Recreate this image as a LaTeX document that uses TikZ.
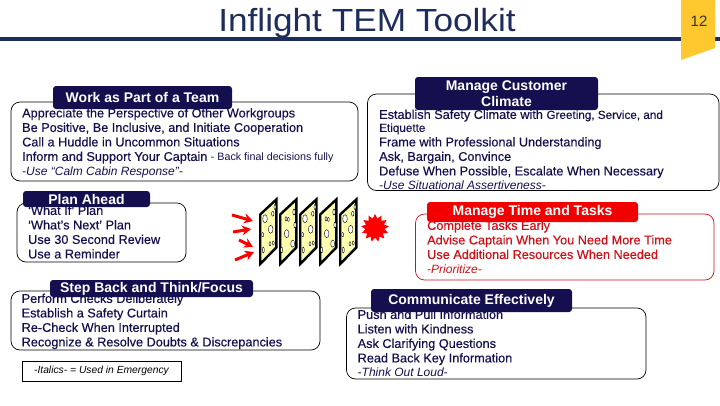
\documentclass[tikz,border=0pt]{standalone}
\usepackage{fontspec}
\setmainfont{Liberation Sans}
\newfontfamily\toolfont[FakeBold=0.35,Ligatures=TeX]{Liberation Sans}
\usetikzlibrary{shapes.geometric,arrows.meta}
\definecolor{toolnavy}{HTML}{14104F}
\definecolor{rulenavy}{HTML}{1F2D5C}
\definecolor{tabgold}{HTML}{FFC82E}
\definecolor{toolred}{HTML}{D01018}
\definecolor{cheese}{HTML}{FFFFB0}
\tikzset{
    toolbox/.style={draw=black, line width=0.7pt, rounded corners=9pt},
    toolhead/.style={fill=toolnavy, rounded corners=3pt, text=white, inner sep=0pt, align=center, font=\fontsize{14}{16}\selectfont\bfseries},
    tooltext/.style={anchor=north west, inner sep=0pt, align=left, text=toolnavy, font=\fontsize{12.7}{14.5}\selectfont\toolfont},
}
\newcommand{\holesA}{6/21.7/2.3/4, 11.7/32.3/2.3/4, 3.7/37.7/1/2.2, 13.7/16.7/1.2/2.5, 11/46.7/1/2, 14.3/46/1/2, 4.3/53/1/3, 16/10/1/2.5}
\newcommand{\holesB}{7/21.7/1/2, 9.3/22.3/1/2, 15/15/1.2/3, 7.7/36.7/2.3/4, 16/28/1.2/3, 13.7/46.7/2/3.5, 2.7/53/1/3}
\newcommand{\emline}[1]{{\normalfont\fontsize{12}{14.5}\selectfont\itshape #1}}
\begin{document}
\begin{tikzpicture}[x=1pt,y=-1pt]
    \useasboundingbox (0,0) rectangle (720,405);

    % Title and rule
    \fill[rulenavy] (0,37.3) rectangle (720,40.7);
    \node[text=rulenavy, inner sep=0pt, transform shape, xscale=1.1, font=\fontsize{32}{36}\selectfont] (title) at (367,23) {Inflight TEM Toolkit};

    % Page tab
    \fill[tabgold] (681,0) -- (715,0) -- (715,48) -- (681,60) -- cycle;
    \node[text=black!80, inner sep=0pt, font=\fontsize{15}{18}\selectfont] (pageno) at (699,21) {12};

    % Work as Part of a Team
    \draw[toolbox] (11,102) rectangle (358,181);
    \node[tooltext] (teamtext) at (22,108) {Appreciate the Perspective of Other Workgroups\\
        Be Positive, Be Inclusive, and Initiate Cooperation\\
        Call a Huddle in Uncommon Situations\\
        Inform and Support Your Captain {\normalfont\fontsize{10.7}{14.5}\selectfont - Back final decisions fully}\\
        \emline{-Use ``Calm Cabin Response''-}};
    \node[toolhead, minimum width=179pt, minimum height=23pt] (teamhead) at (142.5,97.5) {Work as Part of a Team};

    % Manage Customer Climate
    \draw[toolbox] (367.5,94) rectangle (719,190.5);
    \node[tooltext] (climatetext) at (379,109.5) {Establish Safety Climate with {\fontsize{11.7}{13}\selectfont Greeting, Service, and}\\[-1.5pt]
        {\fontsize{11.7}{13}\selectfont Etiquette}\\
        Frame with Professional Understanding\\
        Ask, Bargain, Convince\\
        Defuse When Possible, Escalate When Necessary\\
        \emline{-Use Situational Assertiveness-}};
    \node[toolhead, minimum width=183pt, minimum height=33pt] (climatehead) at (506.5,93.5) {Manage Customer\\Climate};

    % Plan Ahead
    \draw[toolbox] (17,203) rectangle (186,262);
    \node[tooltext] (plantext) at (28,205.5) {‘What If’ Plan\\
        ‘What’s Next’ Plan\\
        Use 30 Second Review\\
        Use a Reminder};
    \node[toolhead, minimum width=127pt, minimum height=16pt] (planhead) at (86.5,199) {Plan Ahead};

    % Step Back and Think/Focus
    \draw[toolbox] (11,291) rectangle (320,350);
    \node[tooltext] (steptext) at (21.5,293.5) {Perform Checks Deliberately\\
        Establish a Safety Curtain\\
        Re-Check When Interrupted\\
        Recognize \& Resolve Doubts \& Discrepancies};
    \node[toolhead, minimum width=203pt, minimum height=17pt] (stephead) at (151.5,288.5) {Step Back and Think/Focus};

    % Legend
    \node[draw=black, line width=0.6pt, minimum width=159pt, minimum height=20pt, inner sep=0pt, font=\fontsize{10.3}{11}\selectfont\itshape] (legend) at (101.5,371) {-Italics- = Used in Emergency};

    % Threat arrows
    \foreach \ax/\ay/\bx/\by in {232/215/253/221, 233/232/251/229, 239/240/253/247, 235/260/254/252}
        \draw[red, line width=3pt, -{Stealth[length=9pt,width=10pt]}] (\ax,\ay) -- (\bx,\by);

    % Cheese slices
    \foreach \sx in {259,279,299,319,339} {
        \filldraw[fill=cheese, draw=black, line width=2.4pt, line join=miter] (\sx+1.2,214.5) -- (\sx+17.3,199.5) -- (\sx+17.3,247.5) -- (\sx+1.2,264) -- cycle;
    }
    \foreach \sx in {259,299,339} {
        \foreach \hx/\hy/\hrx/\hry in \holesA
            \filldraw[fill=white, draw=black, line width=0.4pt] (\sx+\hx,197+\hy) ellipse ({\hrx} and {\hry});
    }
    \foreach \sx in {279,319} {
        \foreach \hx/\hy/\hrx/\hry in \holesB
            \filldraw[fill=white, draw=black, line width=0.4pt] (\sx+\hx,197+\hy) ellipse ({\hrx} and {\hry});
    }

    % Accident burst
    \node[star, star points=13, star point ratio=1.45, fill=red, minimum size=28pt, inner sep=0pt] (burst) at (375,228) {};

    % Manage Time and Tasks (Red)
    \draw[toolbox, draw=toolred] (415.5,214) rectangle (714,280);
    \node[tooltext, text=toolred] (timetext) at (427,220.5) {Complete Tasks Early\\
        Advise Captain When You Need More Time\\
        Use Additional Resources When Needed\\
        \emline{-Prioritize-}};
    \node[toolhead, fill=red!95!black, minimum width=211pt, minimum height=20pt] (timehead) at (532.5,212) {Manage Time and Tasks};

    % Communicate Effectively
    \draw[toolbox] (346.5,308) rectangle (646,379);
    \node[tooltext] (commtext) at (357.5,309.5) {Push and Pull Information\\
        Listen with Kindness\\
        Ask Clarifying Questions\\
        Read Back Key Information\\
        \emline{-Think Out Loud-}};
    \node[toolhead, minimum width=201pt, minimum height=23pt] (commhead) at (471.5,300.5) {Communicate Effectively};
\end{tikzpicture}
\end{document}
